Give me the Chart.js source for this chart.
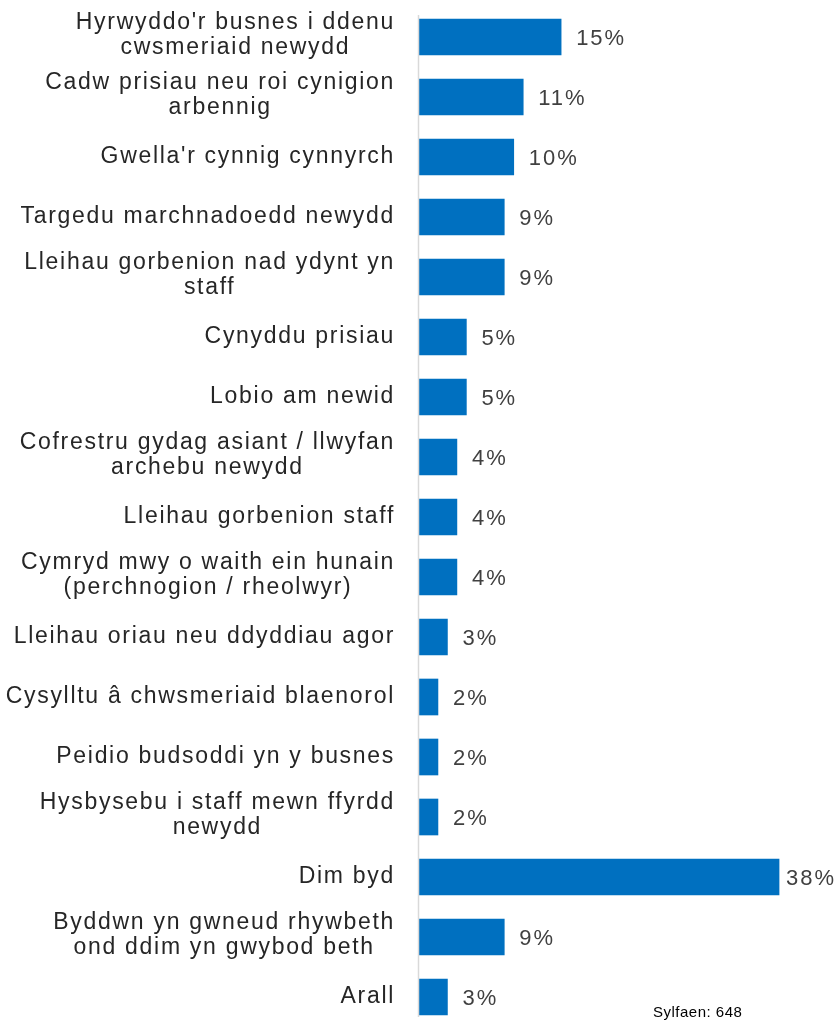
<!DOCTYPE html>
<html>
<head>
<meta charset="utf-8">
<script src="https://cdn.jsdelivr.net/npm/chart.js@4"></script>
<style>
  html, body { margin: 0; padding: 0; background: #fff; }
  #wrap { position: relative; width: 839px; height: 1022px; }
  #note { position: absolute; left: 653px; top: 1003px; font: 15px "Liberation Sans", Arial, sans-serif; letter-spacing: 0.5px; color: #000; }
</style>
</head>
<body>
<div id="wrap"><canvas id="c"></canvas><div id="note">Sylfaen: 648</div></div>
<script>
const categories = [
  ["Hyrwyddo'r busnes i ddenu", "cwsmeriaid newydd"],
  ["Cadw prisiau neu roi cynigion", "arbennig"],
  "Gwella'r cynnig cynnyrch",
  "Targedu marchnadoedd newydd",
  ["Lleihau gorbenion nad ydynt yn", "staff"],
  "Cynyddu prisiau",
  "Lobio am newid",
  ["Cofrestru gydag asiant / llwyfan", "archebu newydd"],
  "Lleihau gorbenion staff",
  ["Cymryd mwy o waith ein hunain", "(perchnogion / rheolwyr)"],
  "Lleihau oriau neu ddyddiau agor",
  "Cysylltu â chwsmeriaid blaenorol",
  "Peidio budsoddi yn y busnes",
  ["Hysbysebu i staff mewn ffyrdd", "newydd"],
  "Dim byd",
  ["Byddwn yn gwneud rhywbeth", "ond ddim yn gwybod beth"],
  "Arall"
];
const values = [15, 11, 10, 9, 9, 5, 5, 4, 4, 4, 3, 2, 2, 2, 38, 9, 3];
const valueLabels = values.map(v => v + "%");

const FONT = '"Liberation Sans", Arial, sans-serif';

const axisLine = {
  id: 'axisLine',
  afterDatasetsDraw(chart) {
    const { ctx, chartArea } = chart;
    ctx.save();
    ctx.strokeStyle = '#d9d9d9';
    ctx.lineWidth = 1.5;
    ctx.beginPath();
    ctx.moveTo(chartArea.left - 0.5, chartArea.top - 22);
    ctx.lineTo(chartArea.left - 0.5, chartArea.bottom + 20);
    ctx.stroke();
    ctx.restore();
  }
};

const catLabels = {
  id: 'catLabels',
  afterDraw(chart) {
    const { ctx } = chart;
    const ys = chart.scales.y;
    const right = chart.chartArea.left - 24;
    ctx.save();
    ctx.font = '23px ' + FONT;
    if ('letterSpacing' in ctx) ctx.letterSpacing = '1.7px';
    ctx.fillStyle = '#262626';
    ctx.textAlign = 'center';
    ctx.textBaseline = 'middle';
    categories.forEach((c, i) => {
      const lines = Array.isArray(c) ? c : [c];
      const n = lines.length;
      const maxW = Math.max(...lines.map(l => ctx.measureText(l).width));
      const cx = right - maxW / 2;
      const cy = ys.getPixelForValue(i);
      lines.forEach((ln, j) => {
        const y = cy + (j - (n - 1) / 2) * 25 - (n > 1 ? 2 : 0);
        ctx.fillText(ln, cx, y);
      });
    });
    ctx.restore();
  }
};

const dataLabels = {
  id: 'dataLabels',
  afterDatasetsDraw(chart) {
    const { ctx } = chart;
    const meta = chart.getDatasetMeta(0);
    ctx.save();
    ctx.font = '22px ' + FONT;
    if ('letterSpacing' in ctx) ctx.letterSpacing = '2px';
    ctx.fillStyle = '#404040';
    ctx.textBaseline = 'middle';
    ctx.textAlign = 'left';
    meta.data.forEach((el, i) => {
      const txt = valueLabels[i];
      const w = ctx.measureText(txt).width;
      let x = el.x + 15;
      if (x + w > chart.width - 3) x = chart.width - 3 - w;
      ctx.fillText(txt, x, el.y + 2);
    });
    ctx.restore();
  }
};

new Chart(document.getElementById('c'), {
  type: 'bar',
  data: {
    labels: categories,
    datasets: [{
      data: values,
      backgroundColor: '#0070C0',
      borderWidth: 0,
      barThickness: 36,
      clip: false
    }]
  },
  options: {
    indexAxis: 'y',
    responsive: true,
    maintainAspectRatio: false,
    animation: false,
    devicePixelRatio: 1,
    layout: { padding: { top: 37, bottom: 25, left: 0, right: 41 } },
    plugins: { legend: { display: false }, tooltip: { enabled: false } },
    scales: {
      x: { display: false, min: 0, max: 40 },
      y: {
        offset: false,
        grid: { display: false, drawTicks: false },
        border: { display: false },
        afterFit(scale) { scale.width = 419; scale.paddingTop = 0; scale.paddingBottom = 0; },
        ticks: { display: false, autoSkip: false }
      }
    }
  },
  plugins: [axisLine, dataLabels, catLabels]
});
</script>
</body>
</html>
